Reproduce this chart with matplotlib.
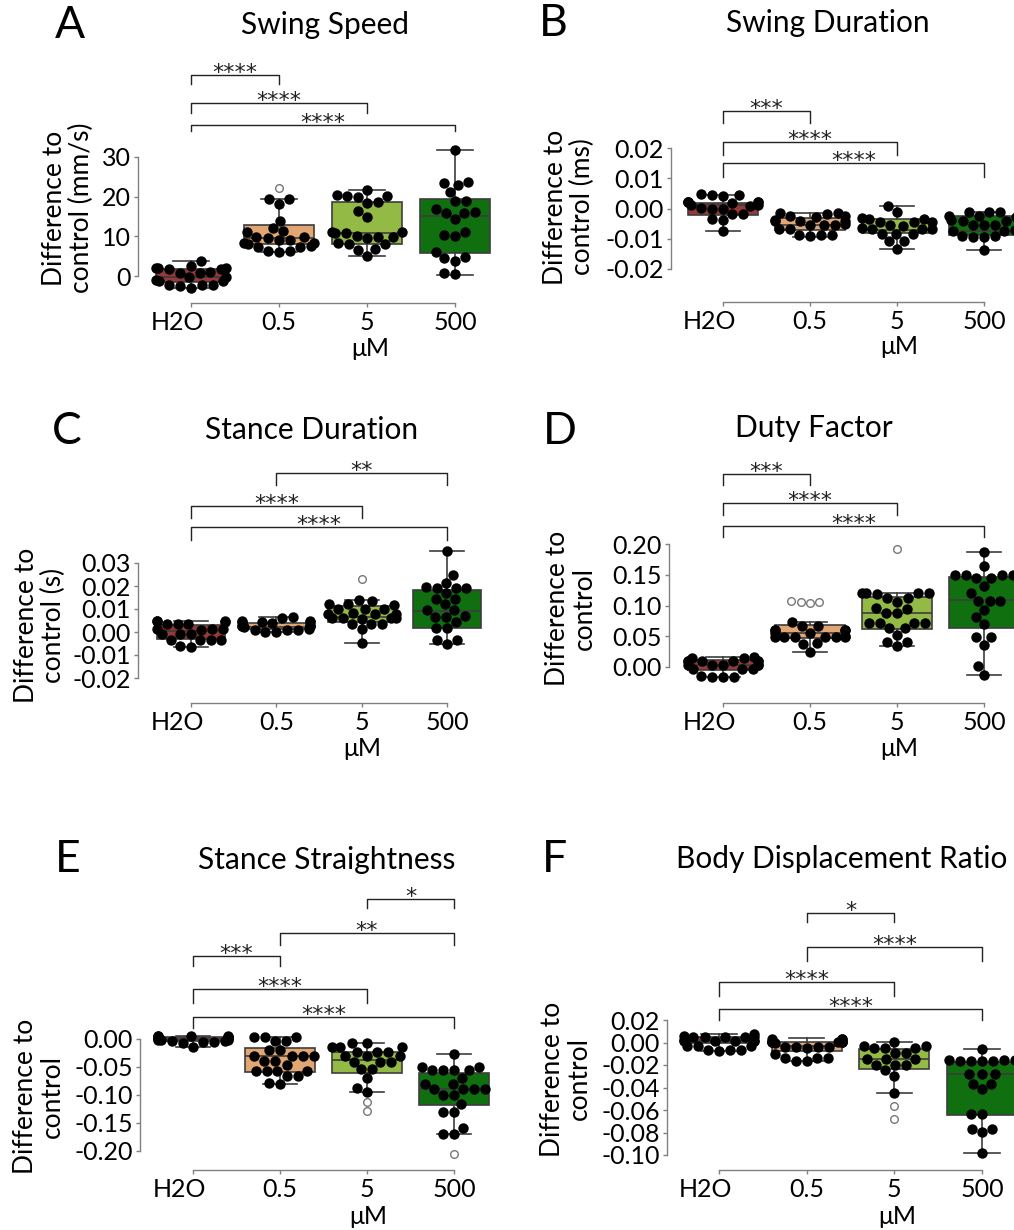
import warnings
import numpy as np
import pandas as pd
import matplotlib
matplotlib.use('Agg')
import matplotlib.pyplot as plt
import matplotlib.transforms as mtransforms
import seaborn as sns

warnings.filterwarnings('ignore')

plt.rcParams['font.family'] = ['Lato', 'DejaVu Sans']
plt.rcParams['axes.unicode_minus'] = False

W, H = 1014, 1230
doses = ['H2O', '0.5', '5', '500']
palette = [sns.desaturate(c, 0.75) for c in ['brown', 'sandybrown', 'yellowgreen', 'green']]
line_col = '#3d3d3d'

# ---------------- A: swing speed (mm/s)
a_pts = [
    [3.9, 2.6, 1.9, 1.8, 1.7, 1.9, 2.0, 0.9, 0.7, 0.8, -0.2, -0.3, -1.2, -1.3, -1.1, -2.2, -2.3, -2.4, -2.2, -2.9],
    [19.3, 19.3, 18.1, 13.9, 12.0, 11.4, 11.2, 9.9, 9.8, 9.6, 9.2, 9.0, 8.3, 8.1, 8.2, 7.5, 7.3, 7.4, 6.3, 6.1, 6.4],
    [21.7, 20.4, 20.2, 20.0, 20.1, 18.6, 18.4, 16.4, 15.0, 11.1, 10.9, 10.8, 11.0, 10.0, 9.9, 9.8, 9.7, 8.2, 8.1, 8.0, 6.8, 6.6, 5.1],
    [31.8, 23.6, 23.4, 22.9, 21.1, 19.0, 18.8, 16.8, 16.1, 16.0, 15.8, 14.4, 11.2, 10.4, 10.2, 6.1, 4.7, 4.5, 3.8, 0.7, 0.5],
]
a_q1 = [-1.4, 8.1, 8.0, 5.7]
a_med = [-0.2, 9.7, 10.8, 15.1]
a_q3 = [1.7, 12.9, 18.7, 19.4]
a_lo = [-2.9, 6.1, 5.1, 0.3]
a_hi = [3.9, 19.3, 21.6, 31.8]
a_fliers = [[], [22.1], [], []]

# ---------------- B: swing duration (ms)
b_pts = [
    [0.0047, 0.0046, 0.0044, 0.0040, 0.0022, 0.0021, 0.0020, 0.0021, 0.0019, 0.0022, 0.0011, 0.0010, 0.0009, 0.0000, -0.0001, 0.0001, -0.0018, -0.0019, -0.0037, -0.0036, -0.0073],
    [-0.0015, -0.0016, -0.0017, -0.0025, -0.0027, -0.0026, -0.0040, -0.0041, -0.0039, -0.0042, -0.0053, -0.0054, -0.0052, -0.0055, -0.0068, -0.0067, -0.0086, -0.0088, -0.0087, -0.0090],
    [0.0008, -0.0012, -0.0033, -0.0035, -0.0034, -0.0044, -0.0046, -0.0045, -0.0056, -0.0057, -0.0066, -0.0068, -0.0067, -0.0069, -0.0083, -0.0085, -0.0084, -0.0107, -0.0109, -0.0133],
    [-0.0011, -0.0012, -0.0013, -0.0012, -0.0025, -0.0026, -0.0027, -0.0026, -0.0040, -0.0041, -0.0039, -0.0055, -0.0054, -0.0056, -0.0073, -0.0072, -0.0074, -0.0092, -0.0093, -0.0094, -0.0091, -0.0137],
]
b_q1 = [-0.0021, -0.0070, -0.0082, -0.0089]
b_med = [0.0012, -0.0054, -0.0071, -0.0073]
b_q3 = [0.0018, -0.0031, -0.0036, -0.0026]
b_lo = [-0.0073, -0.0093, -0.0133, -0.0137]
b_hi = [0.0046, -0.0015, 0.0008, -0.0010]
b_fliers = [[], [], [], []]

# ---------------- C: stance duration (s)
c_pts = [
    [0.0049, 0.0046, 0.0045, 0.0047, 0.0035, 0.0034, 0.0036, 0.0013, 0.0012, 0.0011, 0.0010, -0.0008, -0.0009, -0.0010, -0.0034, -0.0035, -0.0036, -0.0033, -0.0064, -0.0060],
    [0.0064, 0.0062, 0.0046, 0.0044, 0.0045, 0.0043, 0.0047, 0.0041, 0.0027, 0.0026, 0.0025, 0.0028, 0.0024, 0.0022, 0.0009, 0.0010, 0.0008, 0.0001, -0.0001, 0.0011],
    [0.0139, 0.0135, 0.0122, 0.0120, 0.0118, 0.0101, 0.0099, 0.0100, 0.0081, 0.0080, 0.0079, 0.0078, 0.0061, 0.0060, 0.0059, 0.0062, 0.0058, 0.0036, 0.0035, 0.0034, 0.0012, -0.0046],
    [0.0354, 0.0249, 0.0214, 0.0195, 0.0193, 0.0192, 0.0190, 0.0168, 0.0144, 0.0142, 0.0120, 0.0097, 0.0095, 0.0068, 0.0066, 0.0067, 0.0045, 0.0019, 0.0018, -0.0034, -0.0036, -0.0052],
]
c_q1 = [-0.0032, 0.0012, 0.0045, 0.0017]
c_med = [0.0006, 0.0023, 0.0067, 0.0091]
c_q3 = [0.0030, 0.0040, 0.0113, 0.0183]
c_lo = [-0.0064, -0.0001, -0.0046, -0.0052]
c_hi = [0.0049, 0.0064, 0.0139, 0.0354]
c_fliers = [[], [], [0.0230], []]

# ---------------- D: duty factor
d_pts = [
    [0.0157, 0.0150, 0.0145, 0.0100, 0.0098, 0.0096, 0.0102, 0.0095, 0.0099, 0.0035, 0.0033, 0.0030, 0.0034, 0.0031, -0.0038, -0.0040, -0.0036, -0.0155, -0.0160, -0.0165, -0.0150],
    [0.0737, 0.0667, 0.0665, 0.0602, 0.0600, 0.0603, 0.0598, 0.0560, 0.0550, 0.0493, 0.0495, 0.0490, 0.0492, 0.0488, 0.0496, 0.0491, 0.0385, 0.0380, 0.0249],
    [0.1200, 0.1198, 0.1195, 0.1197, 0.1199, 0.1117, 0.1115, 0.1063, 0.0954, 0.0950, 0.0873, 0.0870, 0.0721, 0.0720, 0.0722, 0.0719, 0.0640, 0.0638, 0.0520, 0.0412, 0.0410, 0.0347],
    [0.1870, 0.1648, 0.1500, 0.1496, 0.1494, 0.1497, 0.1495, 0.1442, 0.1440, 0.1317, 0.1198, 0.1075, 0.1073, 0.1070, 0.0927, 0.0808, 0.0699, 0.0482, 0.0480, 0.0358, 0.0016, -0.0130],
]
d_q1 = [-0.0049, 0.0477, 0.0623, 0.0629]
d_med = [0.0033, 0.0547, 0.0883, 0.1084]
d_q3 = [0.0114, 0.0683, 0.1144, 0.1458]
d_lo = [-0.0168, 0.0249, 0.0347, -0.0130]
d_hi = [0.0157, 0.0737, 0.1198, 0.1870]
d_fliers = [[], [0.108, 0.106, 0.104, 0.106], [0.1918], []]

# ---------------- E: stance straightness
e_pts = [
    [0.0054, 0.0050, 0.0048, 0.0045, 0.0040, 0.0042, 0.0030, 0.0020, 0.0010, 0.0005, 0.0000, -0.0010, -0.0020, -0.0025, -0.0030, -0.0040, -0.0050, -0.0060, -0.0080, -0.0137],
    [0.0042, 0.0040, 0.0038, -0.0030, -0.0032, -0.0196, -0.0195, -0.0298, -0.0300, -0.0297, -0.0299, -0.0387, -0.0385, -0.0464, -0.0565, -0.0566, -0.0563, -0.0567, -0.0660, -0.0658, -0.0790, -0.0804],
    [-0.0065, -0.0066, -0.0137, -0.0136, -0.0138, -0.0226, -0.0225, -0.0227, -0.0304, -0.0305, -0.0303, -0.0405, -0.0404, -0.0406, -0.0542, -0.0540, -0.0702, -0.0880, -0.0940],
    [-0.0268, -0.0494, -0.0496, -0.0554, -0.0556, -0.0552, -0.0555, -0.0702, -0.0804, -0.0806, -0.0893, -0.0892, -0.0894, -0.0890, -0.1000, -0.1002, -0.1160, -0.1298, -0.1300, -0.1595, -0.1696, -0.1698],
]
e_q1 = [-0.0030, -0.0583, -0.0601, -0.1179]
e_med = [0.0005, -0.0298, -0.0375, -0.0893]
e_q3 = [0.0040, -0.0155, -0.0238, -0.0613]
e_lo = [-0.0137, -0.0804, -0.0940, -0.1696]
e_hi = [0.0054, 0.0042, -0.0065, -0.0268]
e_fliers = [[], [], [-0.1120, -0.1286], [-0.2054]]

# ---------------- F: body displacement ratio
f_pts = [
    [0.0076, 0.0052, 0.0050, 0.0053, 0.0051, 0.0049, 0.0054, 0.0016, 0.0015, 0.0017, 0.0014, 0.0018, 0.0013, -0.0031, -0.0030, -0.0032, -0.0067, -0.0068, -0.0066, -0.0073],
    [0.0031, 0.0030, 0.0029, 0.0002, 0.0003, 0.0001, 0.0002, 0.0000, 0.0004, 0.0002, 0.0001, -0.0043, -0.0042, -0.0044, -0.0041, -0.0045, -0.0102, -0.0135, -0.0134, -0.0136, -0.0164, -0.0163],
    [0.0002, -0.0031, -0.0032, -0.0052, -0.0051, -0.0053, -0.0096, -0.0097, -0.0149, -0.0150, -0.0148, -0.0200, -0.0201, -0.0199, -0.0244, -0.0298, -0.0452],
    [-0.0060, -0.0158, -0.0160, -0.0162, -0.0159, -0.0161, -0.0157, -0.0163, -0.0283, -0.0284, -0.0282, -0.0369, -0.0370, -0.0416, -0.0636, -0.0638, -0.0769, -0.0770, -0.0798, -0.0985],
]
f_q1 = [-0.0007, -0.0073, -0.0239, -0.0644]
f_med = [0.0016, -0.0031, -0.0149, -0.0283]
f_q3 = [0.0052, 0.0007, -0.0061, -0.0171]
f_lo = [-0.0073, -0.0164, -0.0452, -0.0985]
f_hi = [0.0076, 0.0037, 0.0002, -0.0060]
f_fliers = [[], [], [-0.0564, -0.0683], []]

fig = plt.figure(figsize=(W / 100, H / 100), dpi=100)


def fx(px):
    return px / W


def fy(py):
    return 1 - py / H


def long_form(groups):
    return pd.DataFrame({'dose': np.repeat(doses, [len(g) for g in groups]),
                         'val': np.concatenate([np.asarray(g, float) for g in groups])})


def panel(box, ticks, fmt, pts, q1, med, q3, lo, hi, fliers, brackets,
          letter, letter_xy, title, title_xy, ylabel, ylabel_xy, xlabel_xy):
    # box = (left, right, bottom, top, cat0 px, cat3 px, top tick px, bottom tick px)
    L, R, B, T, c0, c3, p1, p2 = box
    ax = fig.add_axes([fx(L), fy(B), (R - L) / W, (B - T) / H])
    ax.patch.set_visible(False)

    stats = [dict(q1=q1[i], med=med[i], q3=q3[i], whislo=lo[i], whishi=hi[i],
                  fliers=[]) for i in range(4)]
    lp = dict(color=line_col, linewidth=1.2)
    bp = ax.bxp(stats, positions=range(4), widths=0.8, patch_artist=True,
                boxprops=dict(edgecolor=line_col, linewidth=1.2),
                medianprops=lp, whiskerprops=lp, capprops=lp, capwidths=0.4,
                showfliers=False)
    for patch, c in zip(bp['boxes'], palette):
        patch.set_facecolor(c)

    # outliers as open circles, inliers as black swarm
    sns.swarmplot(data=long_form(fliers), x='dose', y='val', order=doses,
                  color='white', edgecolor='#777777', linewidth=1,
                  size=5.5, ax=ax, zorder=3)
    sns.swarmplot(data=long_form(pts), x='dose', y='val', order=doses,
                  color='black', size=7.5, ax=ax, zorder=3)

    s = (c3 - c0) / 3
    ax.set_xlim((L - c0) / s, (R - c0) / s)
    v1, v2 = ticks[-1], ticks[0]
    sy = (p2 - p1) / (v1 - v2)

    def yv(p):
        return v1 + (p1 - p) / sy

    ax.set_ylim(yv(B), yv(T))

    for side in ['top', 'right']:
        ax.spines[side].set_visible(False)
    for side in ['left', 'bottom']:
        ax.spines[side].set_color('#808080')
        ax.spines[side].set_linewidth(1)
    ax.spines['left'].set_bounds(ticks[0], ticks[-1])
    ax.spines['bottom'].set_bounds(0, 3)
    ax.set_yticks(ticks, [fmt % t for t in ticks])
    ax.set_xticks(range(4), doses)
    ax.tick_params(length=3, width=1, color='#808080', labelsize=18)
    ax.tick_params(axis='y', pad=2)
    ax.tick_params(axis='x', pad=3)
    off = mtransforms.ScaledTranslation(-0.14, 0, fig.dpi_scale_trans)
    lab = ax.get_xticklabels()[0]
    lab.set_transform(lab.get_transform() + off)
    ax.set_xlabel('')
    ax.set_ylabel('')

    for i, j, stars, bar, leg in brackets:
        ax.plot([i, i, j, j], [yv(leg), yv(bar), yv(bar), yv(leg)],
                color='#222222', linewidth=1, clip_on=False)
        ax.text((i + j) / 2, yv(bar - 2), stars, ha='center', va='center',
                fontsize=16, family='DejaVu Sans', color='#222222')

    fig.text(fx(letter_xy[0]), fy(letter_xy[1]), letter, fontsize=32,
             ha='center', va='center')
    fig.text(fx(title_xy[0]), fy(title_xy[1]), title, fontsize=21.5,
             ha='center', va='center')
    fig.text(fx(ylabel_xy[0]), fy(ylabel_xy[1]), ylabel, fontsize=19,
             rotation=90, ha='center', va='center', linespacing=1.1)
    fig.text(fx(xlabel_xy[0]), fy(xlabel_xy[1]), 'μM', fontsize=18,
             ha='center', va='center')
    return ax


panel((138, 499, 303, 55, 191, 455, 157, 276), [0, 10, 20, 30], '%d',
      a_pts, a_q1, a_med, a_q3, a_lo, a_hi, a_fliers,
      [(0, 1, '****', 75, 84), (0, 2, '****', 103, 113), (0, 3, '****', 125, 131)],
      'A', (70, 26), 'Swing Speed', (325, 25),
      'Difference to\ncontrol (mm/s)', (68, 208), (370, 348))

panel((671, 1014, 302, 95, 723, 984, 148, 269), [-0.02, -0.01, 0.0, 0.01, 0.02], '%.2f',
      b_pts, b_q1, b_med, b_q3, b_lo, b_hi, b_fliers,
      [(0, 1, '***', 111, 123), (0, 2, '****', 142, 155), (0, 3, '****', 163, 177)],
      'B', (553, 23), 'Swing Duration', (828, 23),
      'Difference to\ncontrol (ms)', (569, 207), (899, 347))

panel((138, 490, 703, 455, 191, 447, 563, 678), [-0.02, -0.01, 0.0, 0.01, 0.02, 0.03], '%.2f',
      c_pts, c_q1, c_med, c_q3, c_lo, c_hi, c_fliers,
      [(1, 3, '**', 473, 485), (0, 2, '****', 506, 518), (0, 3, '****', 527, 540)],
      'C', (67, 432), 'Stance Duration', (312, 430),
      'Difference to\ncontrol (s)', (40, 625), (362, 748))

panel((669, 1014, 703, 455, 723, 984, 544, 667), [0.0, 0.05, 0.10, 0.15, 0.20], '%.2f',
      d_pts, d_q1, d_med, d_q3, d_lo, d_hi, d_fliers,
      [(0, 1, '***', 474, 485), (0, 2, '****', 503, 515), (0, 3, '****', 526, 537)],
      'D', (560, 432), 'Duty Factor', (814, 428),
      'Difference to\ncontrol', (571, 608), (899, 748))

panel((140, 497, 1170, 880, 193, 454, 1039, 1151), [-0.20, -0.15, -0.10, -0.05, 0.0], '%.2f',
      e_pts, e_q1, e_med, e_q3, e_lo, e_hi, e_fliers,
      [(2, 3, '*', 899, 908), (1, 3, '**', 933, 945), (0, 1, '***', 956, 966),
       (0, 2, '****', 989, 1003), (0, 3, '****', 1017, 1028)],
      'E', (68, 860), 'Stance Straightness', (327, 860),
      'Difference to\ncontrol', (39, 1096), (368, 1217))

panel((667, 1014, 1170, 895, 719, 982, 1020, 1155),
      [-0.10, -0.08, -0.06, -0.04, -0.02, 0.0, 0.02], '%.2f',
      f_pts, f_q1, f_med, f_q3, f_lo, f_hi, f_fliers,
      [(1, 2, '*', 913, 922), (1, 3, '****', 947, 961), (0, 2, '****', 982, 996),
       (0, 3, '****', 1009, 1020)],
      'F', (555, 860), 'Body Displacement Ratio', (842, 859),
      'Difference to\ncontrol', (566, 1079), (897, 1217))

fig.savefig('out.png', dpi=100)
